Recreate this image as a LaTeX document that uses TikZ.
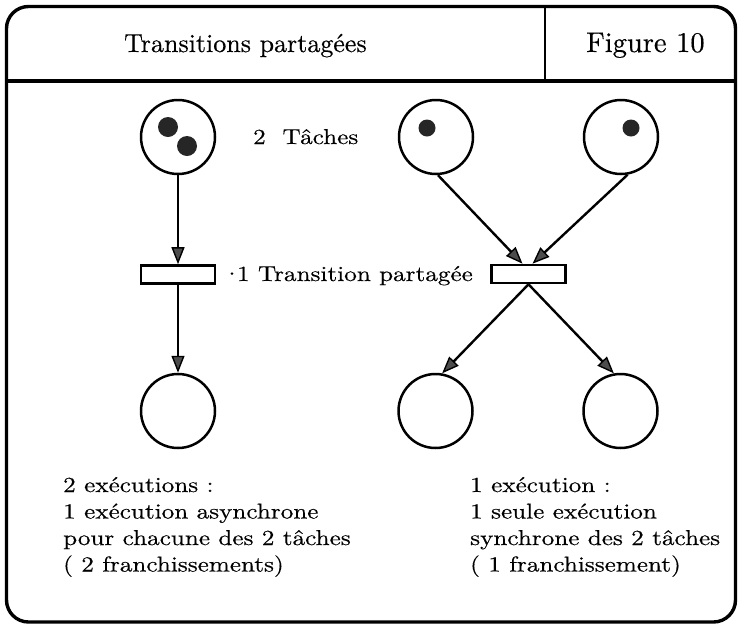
\documentclass[tikz,border=0pt]{standalone}
\usepackage{fontspec}
% keep the 10pt design of Latin Modern at every size, slightly emboldened
\setmainfont{lmroman10-regular}[Extension=.otf, FakeBold=0.4]
\usepackage{graphicx}
\usetikzlibrary{arrows.meta}

% body text is set in a slightly widened face
\newcommand{\wtext}[1]{\scalebox{1.17}[1]{#1}}

\tikzset{
  frame/.style={line width=3.4pt},
  place/.style={circle, draw, line width=2.5pt, minimum size=74pt, inner sep=0pt},
  token/.style={circle, fill=black!85, inner sep=0pt, minimum size=20pt},
  trans/.style={rectangle, draw, line width=2.6pt, minimum width=74pt, minimum height=18pt, inner sep=0pt},
  arc/.style={line width=2.4pt, -{Triangle[length=17pt,width=13pt,fill=black!70,line width=1.4pt]}},
  body/.style={inner sep=0pt, anchor=base west, font=\fontsize{21.5}{25}\selectfont},
  head/.style={inner sep=0pt, anchor=base west, font=\fontsize{26}{30}\selectfont},
}

\begin{document}
\begin{tikzpicture}[x=1pt,y=-1pt]
\useasboundingbox (0,0) rectangle (739,625);

% outer frame and header
\draw[frame, rounded corners=22pt] (6.5,6.5) rectangle (735.5,622);
\draw[frame] (6.5,81) -- (735.5,81);
\draw[line width=2.8pt] (545,6.5) -- (545,81);
\node[head] (title) at (124,52) {Transitions partagées};
\node[head, font=\fontsize{28.5}{32}\selectfont] (fig) at (586,52) {Figure 10};

% left net: one place with two tokens
\node[place] (p1) at (178,137) {};
\node[token] (k1) at (168,127) {};
\node[token] (k2) at (187,146) {};
\node[trans] (t1) at (178,274.5) {};
\node[place] (p2) at (178,411) {};

% right net: two places with one token each
\node[place] (p3) at (436,137) {};
\node[token, minimum size=17pt] (k3) at (427,128) {};
\node[place] (p4) at (621,137) {};
\node[token, minimum size=17pt] (k4) at (631,128) {};
\node[trans] (t2) at (528.5,274) {};
\node[place] (p5) at (435.5,411) {};
\node[place] (p6) at (620.5,411) {};

% arcs
\draw[arc] (p1.south) -- (t1.north);
\draw[arc] (t1.south) -- (p2.north);
\draw[arc] (p3.273) -- ([xshift=-6pt]t2.north);
\draw[arc] (p4.280) -- ([xshift=4pt]t2.north);
\draw[arc] (t2.south) -- (p5.80);
\draw[arc] (t2.south) -- (p6.100);

% labels
\node[body] (tasks) at (253,144) {\wtext{2\ \ Tâches}};
\node[body] (shared) at (222,281) {\wtext{·\kern-4pt 1 Transition partagée}};

\node[body] (l1) at (63,492) {\wtext{2 exécutions :}};
\node[body] (l2) at (63,518.5) {\wtext{1 exécution asynchrone}};
\node[body] (l3) at (63,545) {\wtext{pour chacune des 2 tâches}};
\node[body] (l4) at (63,571.5) {\wtext{( 2 franchissements)}};

\node[body] (r1) at (470,492) {\wtext{1 exécution :}};
\node[body] (r2) at (470,518.5) {\wtext{1 seule exécution}};
\node[body] (r3) at (470,545) {\wtext{synchrone des 2 tâches}};
\node[body] (r4) at (470,571.5) {\wtext{( 1 franchissement)}};
\end{tikzpicture}
\end{document}
